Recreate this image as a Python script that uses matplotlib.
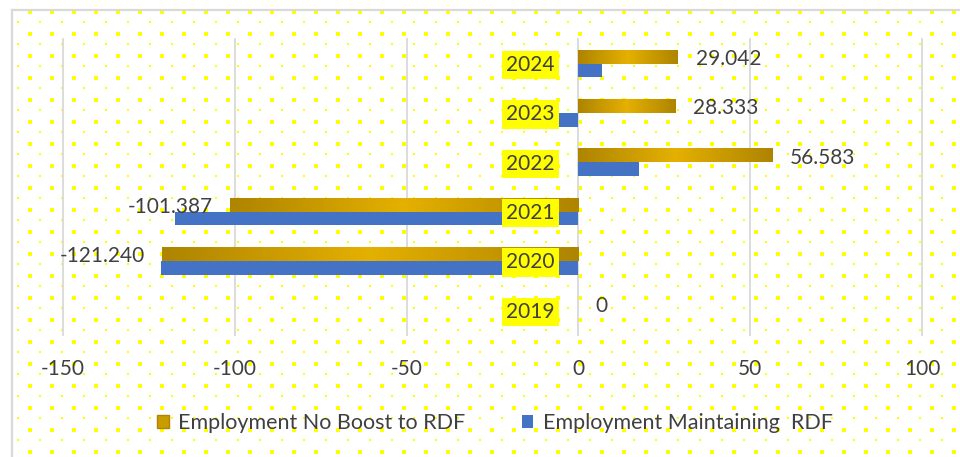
import numpy as np
import matplotlib
matplotlib.use("Agg")
from matplotlib import pyplot as plt
from matplotlib.colors import LinearSegmentedColormap
from matplotlib.patches import Patch

years = ["2019", "2020", "2021", "2022", "2023", "2024"]
no_boost = [0, -121.240, -101.387, 56.583, 28.333, 29.042]
maintaining = [0, -121.6, -117.3, 17.7, -6.4, 7.0]
xticks = [-150, -100, -50, 0, 50, 100]
series_names = ["Employment No Boost to RDF", "Employment Maintaining  RDF"]

gold_dark = "#AE8400"
gold_light = "#E4B000"
blue = "#4472C4"
text_col = "#404040"
grid_col = "#D9D9D9"

plt.rcParams["font.family"] = ["Lato", "DejaVu Sans"]

W, H = 960, 457
fig = plt.figure(figsize=(W / 100, H / 100), dpi=100)

# background with the dotted fill pattern and the frame
bg = fig.add_axes([0, 0, 1, 1], zorder=0)
bg.set_xlim(0, W)
bg.set_ylim(H, 0)
bg.axis("off")
bx, by = np.meshgrid(np.arange(30, W, 22), np.arange(12, H, 22))
sx, sy = np.meshgrid(np.arange(18, W, 22), np.arange(22.3, H, 22))
bg.scatter(bx.ravel(), by.ravel(), s=6.5, marker="s", color="#FFFF00", lw=0)
bg.scatter(sx.ravel(), sy.ravel(), s=3.5, marker="s", color="#FFFF00", lw=0)
bg.plot([11.5, 11.5], [H, 9.5], color=grid_col, lw=1.6)
bg.plot([11.5, W], [9.5, 9.5], color=grid_col, lw=1.6)

ax = fig.add_axes([63 / W, 1 - 335 / H, (922 - 63) / W, (335 - 39) / H], zorder=1)
ax.patch.set_alpha(0)
for s in ax.spines.values():
    s.set_visible(False)

for t in xticks:
    ax.axvline(t, color=grid_col, lw=1.3, zorder=1, clip_on=False)

y = np.arange(len(years))
bh = 0.28
cmap = LinearSegmentedColormap.from_list("gold", [gold_dark, gold_light, gold_dark])
grad = np.linspace(0, 1, 256).reshape(1, -1)

ax.barh(y - bh / 2, maintaining, height=bh, color=blue, zorder=2)
gold_bars = ax.barh(y + bh / 2, no_boost, height=bh, color="none", zorder=2)
for b, v in zip(gold_bars, no_boost):
    if v == 0:
        continue
    x0, x1 = sorted([0, v])
    ax.imshow(grad, cmap=cmap, aspect="auto", zorder=2,
              extent=(x0, x1, b.get_y(), b.get_y() + b.get_height()))

for yi, v in zip(y, no_boost):
    lab = "0" if v == 0 else f"{v:.3f}"
    off = -12 if v < 0 else 12.5
    ax.annotate(lab, (v, yi + bh / 2), xytext=(off, -1.5), textcoords="offset points",
                ha="right" if v < 0 else "left", va="center",
                fontsize=15, color=text_col, zorder=4)

for yi, yr in zip(y, years):
    ax.annotate(yr, (0, yi), xytext=(-17, -1), textcoords="offset points",
                ha="right", va="center", fontsize=15, color=text_col, zorder=5,
                bbox=dict(boxstyle="square,pad=0.2", fc="#FFFF00", ec="none"))

ax.set_xlim(-150, 100)
ax.set_ylim(-0.5, 5.5)
ax.set_xticks(xticks)
ax.set_xticklabels([str(t) for t in xticks])
ax.set_yticks([])
ax.tick_params(axis="x", length=0, pad=17, labelsize=15, labelcolor=text_col)

handles = [Patch(facecolor="#C99C00", edgecolor=gold_dark), Patch(facecolor=blue)]
fig.legend(handles, series_names, loc="center", bbox_to_anchor=(495 / W, 1 - 423 / H),
           ncol=2, frameon=False, labelcolor=text_col, fontsize=15.5,
           handlelength=0.55, handleheight=0.55, handletextpad=0.45, columnspacing=2.6)

fig.savefig("out.png", dpi=100)
